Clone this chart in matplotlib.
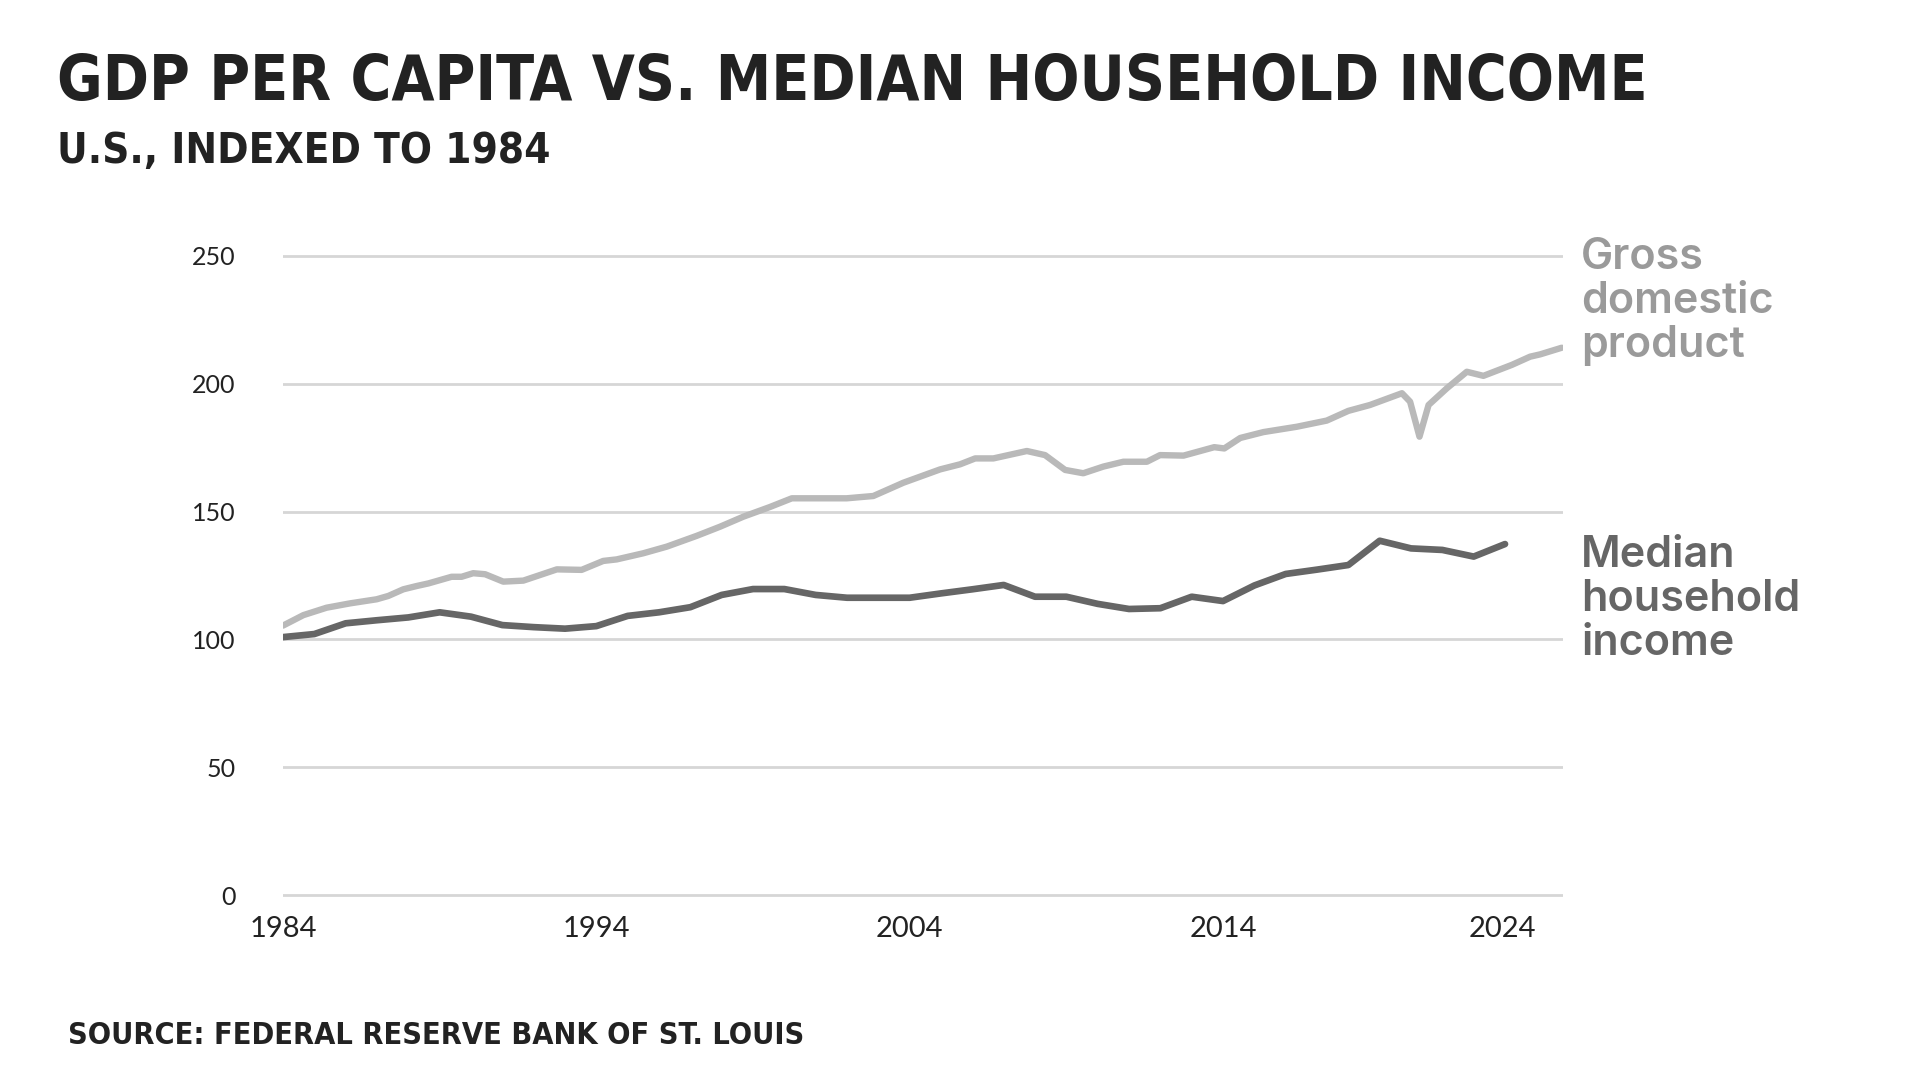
import matplotlib
matplotlib.use("Agg")
import matplotlib.pyplot as plt

# === Data ===
# GDP per capita, indexed to 1984 (vertices of the quarterly line)
gdp_years = [1984.0, 1984.65, 1985.39, 1986.14, 1986.99, 1987.36, 1987.84, 1988.27,
             1988.64, 1989.38, 1989.70, 1990.07, 1990.45, 1991.03, 1991.67, 1992.74,
             1993.53, 1994.22, 1994.65, 1995.50, 1996.25, 1997.20, 1997.95, 1998.69,
             1999.54, 2000.24, 2001.99, 2002.84, 2003.80, 2004.97, 2005.61, 2006.09,
             2006.67, 2007.74, 2008.32, 2008.96, 2009.54, 2010.18, 2010.82, 2011.57,
             2011.99, 2012.74, 2013.72, 2014.04, 2014.55, 2015.29, 2016.36, 2017.31,
             2018.00, 2018.69, 2019.71, 2019.97, 2020.27, 2020.56, 2021.14, 2021.78,
             2022.31, 2023.22, 2023.80, 2024.12, 2024.81]
gdp_values = [105.4, 109.5, 112.4, 114.1, 115.7, 117.0, 119.6, 120.9,
              121.9, 124.5, 124.5, 125.9, 125.5, 122.6, 123.0, 127.4,
              127.2, 130.7, 131.3, 133.7, 136.3, 140.5, 144.1, 148.0,
              151.8, 155.2, 155.2, 156.1, 161.3, 166.5, 168.5, 170.8,
              170.8, 173.7, 172.1, 166.3, 165.0, 167.6, 169.5, 169.5,
              172.1, 171.9, 175.2, 174.7, 178.8, 181.1, 183.2, 185.6,
              189.4, 191.7, 196.3, 193.0, 179.3, 191.7, 198.2, 204.7,
              203.1, 207.4, 210.6, 211.5, 214.1]

# Real median household income, indexed to 1984 (annual)
income_years = list(range(1984, 2024))
income_values = [100.9, 102.1, 106.3, 107.5, 108.6, 110.6, 108.9, 105.6, 104.8, 104.2,
                 105.2, 109.2, 110.6, 112.6, 117.4, 119.7, 119.7, 117.4, 116.3, 116.3,
                 116.3, 118.0, 119.6, 121.3, 116.7, 116.7, 113.9, 111.9, 112.2, 116.7,
                 115.0, 121.1, 125.6, 127.3, 129.1, 138.6, 135.6, 135.0, 132.4, 137.3]

y_ticks = [0, 50, 100, 150, 200, 250]
x_ticks = [1984, 1994, 2004, 2014, 2024]

TITLE = "GDP PER CAPITA VS. MEDIAN HOUSEHOLD INCOME"
SUBTITLE = "U.S., INDEXED TO 1984"
SOURCE = "SOURCE: FEDERAL RESERVE BANK OF ST. LOUIS"

# === Style ===
GDP_COLOR = "#b9b9b9"
GDP_LABEL_COLOR = "#9a9a9a"
INC_COLOR = "#666666"
GRID_COLOR = "#d6d6d6"
TEXT_COLOR = "#222222"
HAND_FONT = ["DejaVu Sans", "Liberation Sans"]
LABEL_FONT = ["Inter", "Lato", "DejaVu Sans"]
TICK_FONT = ["Lato", "DejaVu Sans"]

fig = plt.figure(figsize=(19.2, 10.8), dpi=100)
fig.patch.set_facecolor("white")
ax = fig.add_axes([283 / 1920, 1 - 897.6 / 1080, 1280 / 1920, 644.2 / 1080])

for v in y_ticks:
    ax.axhline(v, color=GRID_COLOR, lw=2.0, zorder=0)

ax.plot(gdp_years, gdp_values, color=GDP_COLOR, lw=4.6,
        solid_capstyle="round", solid_joinstyle="round", zorder=2)
ax.plot(income_years, income_values, color=INC_COLOR, lw=4.8,
        solid_capstyle="round", solid_joinstyle="round", zorder=3)

ax.set_xlim(1984, 2024.85)
ax.set_ylim(-1, 251)
for s in ax.spines.values():
    s.set_visible(False)

ax.set_yticks(y_ticks)
ax.set_yticklabels([str(v) for v in y_ticks], family=TICK_FONT, fontsize=18,
                   color=TEXT_COLOR)
ax.tick_params(axis="y", length=0, pad=34)

ax.set_xticks(x_ticks)
ax.set_xticklabels([str(v) for v in x_ticks], family=TICK_FONT, fontsize=21,
                   color=TEXT_COLOR)
ax.tick_params(axis="x", length=0, pad=13)
ax.get_xticklabels()[-1].set_horizontalalignment("right")

# direct labels on the right
fig.text(1581 / 1920, 1 - 237 / 1080, "Gross\ndomestic\nproduct", family=LABEL_FONT,
         fontsize=31, fontweight="semibold", color=GDP_LABEL_COLOR, va="top", ha="left",
         linespacing=1.09)
fig.text(1581 / 1920, 1 - 535 / 1080, "Median\nhousehold\nincome", family=LABEL_FONT,
         fontsize=31, fontweight="semibold", color=INC_COLOR, va="top", ha="left",
         linespacing=1.09)

# titles and source, scaled to the widths they take in the original
renderer = fig.canvas.get_renderer()


def fit_text(x0, x1, y_base, s, size):
    t = fig.text(x0 / 1920, 1 - y_base / 1080, s, family=HAND_FONT, fontsize=size,
                 fontweight="bold", fontstretch="condensed", color=TEXT_COLOR,
                 va="baseline", ha="left")
    w = t.get_window_extent(renderer).width
    t.set_fontsize(size * (x1 - x0) / w)
    return t


fit_text(57, 1649, 100, TITLE, 50)
fit_text(57, 550, 163, SUBTITLE, 36)
fit_text(68, 806, 1044, SOURCE, 26)

fig.savefig("out.png", dpi=100, facecolor="white")
